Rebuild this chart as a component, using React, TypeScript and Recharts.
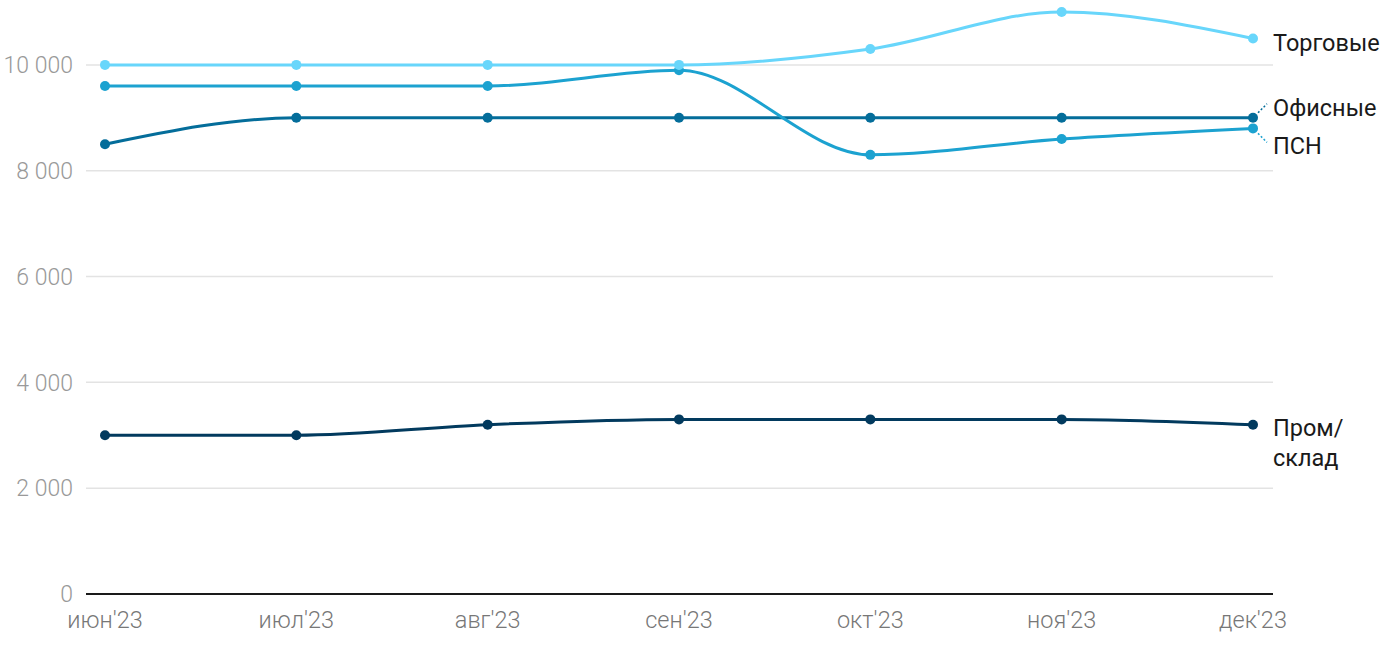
import React from "react";
import { LineChart, Line, XAxis, YAxis, CartesianGrid, LabelList } from "recharts";

const months = ["июн'23", "июл'23", "авг'23", "сен'23", "окт'23", "ноя'23", "дек'23"];
const trade = [10000, 10000, 10000, 10000, 10300, 11000, 10500];
const psn = [9600, 9600, 9600, 9900, 8300, 8600, 8800];
const office = [8500, 9000, 9000, 9000, 9000, 9000, 9000];
const industrial = [3000, 3000, 3200, 3300, 3300, 3300, 3200];
const yTicks = [0, 2000, 4000, 6000, 8000, 10000];

const data = months.map((m, i) => ({
  month: m,
  trade: trade[i],
  psn: psn[i],
  office: office[i],
  industrial: industrial[i],
}));

const fmt = (v: number) => v.toLocaleString("ru-RU").replace(/\s/g, " ");
const last = months.length - 1;

// label placement relative to last point
const endLabel = (lines: string[], dy: number, color: string, connector?: number) =>
  (props: any) => {
    const { x, y, index } = props;
    if (index !== last) return null;
    return (
      <g>
        {connector ? (
          <line
            x1={x + 5}
            y1={y + connector * 5}
            x2={x + 14}
            y2={y + connector * 14}
            stroke={color}
            strokeWidth={1.5}
            strokeDasharray="2 2"
          />
        ) : null}
        {lines.map((t, i) => (
          <text
            key={i}
            x={x + 20}
            y={y + dy + i * 30}
            fill="#1a1a1a"
            style={{ fontSize: 23.5, fontFamily: "Roboto" }}
            dominantBaseline="central"
          >
            {t}
          </text>
        ))}
      </g>
    );
  };

export default function App() {
  return (
    <div style={{ position: "absolute", left: 0, top: 0, fontFamily: "Roboto" }}>
      <LineChart width={1400} height={650} data={data} margin={{ top: 12, right: 127, bottom: 0, left: 0 }}>
        <CartesianGrid vertical={false} horizontalValues={yTicks} stroke="#e3e3e3" strokeWidth={1.5} />
        <XAxis
          dataKey="month"
          height={56}
          padding={{ left: 19, right: 20 }}
          tickLine={false}
          axisLine={{ stroke: "#1a1a1a", strokeWidth: 2 }}
          tick={{ fill: "#777", fontSize: 23.5, fontWeight: 300 }}
          tickMargin={11}
        />
        <YAxis
          width={86}
          domain={[0, 11000]}
          ticks={yTicks}
          tickFormatter={fmt}
          axisLine={false}
          tickLine={false}
          tickSize={0}
          tickMargin={13}
          tick={{ fill: "#999", fontSize: 23, fontWeight: 300 }}
        />
        <Line type="monotone" dataKey="industrial" stroke="#023a5e" strokeWidth={3} dot={{ r: 5, fill: "#023a5e", strokeWidth: 0 }} isAnimationActive={false}>
          <LabelList dataKey="industrial" content={endLabel(["Пром/", "склад"], 3, "#023a5e")} />
        </Line>
        <Line type="monotone" dataKey="office" stroke="#046d9a" strokeWidth={3} dot={{ r: 5, fill: "#046d9a", strokeWidth: 0 }} isAnimationActive={false}>
          <LabelList dataKey="office" content={endLabel(["Офисные"], -10, "#046d9a", -1)} />
        </Line>
        <Line type="monotone" dataKey="psn" stroke="#1ca2d0" strokeWidth={3} dot={{ r: 5, fill: "#1ca2d0", strokeWidth: 0 }} isAnimationActive={false}>
          <LabelList dataKey="psn" content={endLabel(["ПСН"], 18, "#1ca2d0", 1)} />
        </Line>
        <Line type="monotone" dataKey="trade" stroke="#68d6fb" strokeWidth={3} dot={{ r: 5, fill: "#68d6fb", strokeWidth: 0 }} isAnimationActive={false}>
          <LabelList dataKey="trade" content={endLabel(["Торговые"], 5, "#68d6fb")} />
        </Line>
      </LineChart>
    </div>
  );
}
